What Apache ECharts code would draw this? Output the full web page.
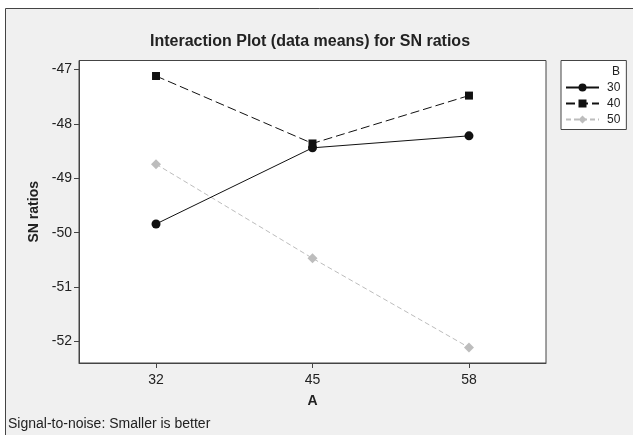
<!DOCTYPE html>
<html>
<head>
<meta charset="utf-8">
<script src="https://cdn.jsdelivr.net/npm/echarts@6/dist/echarts.min.js"></script>
<style>html,body{margin:0;padding:0;background:#fff}#c{width:633px;height:435px}</style>
</head>
<body>
<div id="c"></div>
<script>
var xValues = [32, 45, 58];
var yTicks = [-47, -48, -49, -50, -51, -52];
var seriesNames = ['30', '40', '50'];
var s30 = [-49.84, -48.44, -48.22];
var s40 = [-47.12, -48.36, -47.48];
var s50 = [-48.74, -50.47, -52.11];

function pairs(v) { return xValues.map(function (x, i) { return [x, v[i]]; }); }
var FONT = 'Liberation Sans, Arial, sans-serif';
var chart = echarts.init(document.getElementById('c'), null, {renderer: 'canvas'});
chart.setOption({
  backgroundColor: '#ffffff',
  animation: false,
  textStyle: {fontFamily: FONT},
  graphic: [
    {type: 'rect', z: -10, shape: {x: 5.5, y: 8.5, width: 700, height: 500},
     style: {fill: '#f0f0f0', stroke: '#444', lineWidth: 1}},
    {type: 'text', left: 8, top: 417, z: 10,
     style: {text: 'Signal-to-noise: Smaller is better', fontSize: 14, fontFamily: FONT, fill: '#222'}},
    {type: 'text', left: 612, top: 66, z: 10,
     style: {text: 'B', fontSize: 12, fontFamily: FONT, fill: '#222'}}
  ],
  title: {
    text: 'Interaction Plot (data means) for SN ratios',
    left: 305, top: 29, textAlign: 'center',
    textStyle: {fontSize: 16, fontWeight: 'bold', color: '#222', fontFamily: FONT}
  },
  legend: {
    orient: 'vertical', left: 561, top: 60.5,
    width: 64,
    padding: [21, 6, 4, 4],
    borderColor: '#444', borderWidth: 1, backgroundColor: '#ffffff',
    itemWidth: 33, itemHeight: 10, itemGap: 4,
    textStyle: {fontSize: 12, color: '#222', fontFamily: FONT, padding: [0, 0, 0, 3]},
    data: seriesNames
  },
  grid: {left: 79, top: 60.5, right: 87, bottom: 72, show: true,
         backgroundColor: '#ffffff', borderColor: '#444', borderWidth: 1},
  xAxis: {
    type: 'value', min: 25.6, max: 64.4,
    name: 'A', nameLocation: 'middle', nameGap: 31,
    nameTextStyle: {fontSize: 14, fontWeight: 'bold', color: '#222', fontFamily: FONT},
    axisLine: {show: true, lineStyle: {color: '#444'}},
    axisTick: {show: true, length: 5, customValues: xValues, lineStyle: {color: '#444'}},
    axisLabel: {customValues: xValues, fontSize: 14, color: '#222', margin: 10, fontFamily: FONT},
    splitLine: {show: false}
  },
  yAxis: {
    type: 'value', min: -52.395, max: -46.835,
    name: 'SN ratios', nameLocation: 'middle', nameGap: 38, nameRotate: 90,
    nameTextStyle: {fontSize: 14, fontWeight: 'bold', color: '#222', fontFamily: FONT},
    axisLine: {show: true, lineStyle: {color: '#444'}},
    axisTick: {show: true, length: 5, customValues: yTicks, lineStyle: {color: '#444'}},
    axisLabel: {customValues: yTicks, fontSize: 14, color: '#222', margin: 7, fontFamily: FONT},
    splitLine: {show: false}
  },
  series: [
    {name: seriesNames[0], type: 'line', data: pairs(s30), symbol: 'circle', symbolSize: 9,
     itemStyle: {color: '#111'}, lineStyle: {color: '#111', width: 1, type: 'solid'}, z: 4},
    {name: seriesNames[1], type: 'line', data: pairs(s40), symbol: 'rect', symbolSize: 8,
     itemStyle: {color: '#111'}, lineStyle: {color: '#111', width: 1, type: [9, 4]}, z: 3},
    {name: seriesNames[2], type: 'line', data: pairs(s50), symbol: 'diamond', symbolSize: 10,
     itemStyle: {color: '#bdbdbd'}, lineStyle: {color: '#bdbdbd', width: 1, type: [5, 3]}, z: 2}
  ]
});
</script>
</body>
</html>
